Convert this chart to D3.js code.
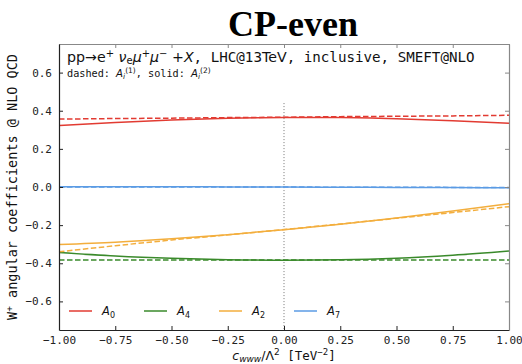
<!DOCTYPE html>
<html lang="en">
	<head>
		<meta charset="utf-8">
		<title>CP-even</title>
		<script type="text/javascript" src="https://cdn.jsdelivr.net/npm/d3@7/dist/d3.min.js"></script>
		<style type="text/css">
			html, body {
				margin: 0;
				padding: 0;
				background-color: white;
			}
		</style>
	</head>
	<body>
		<script type="text/javascript">

			//Width and height
			var w = 522;
			var h = 364;

			//Data
			var cwww = [-1, -0.75, -0.5, -0.25, 0, 0.25, 0.5, 0.75, 1];
			var a0Solid = [0.322, 0.338, 0.352, 0.361, 0.365, 0.364, 0.358, 0.348, 0.334];
			var a0Dashed = [0.356, 0.359, 0.361, 0.364, 0.366, 0.369, 0.371, 0.373, 0.376];
			var a4Solid = [-0.344, -0.362, -0.374, -0.381, -0.384, -0.382, -0.374, -0.358, -0.336];
			var a4Dashed = [-0.383, -0.383, -0.383, -0.383, -0.383, -0.383, -0.383, -0.383, -0.383];
			var a2Solid = [-0.302, -0.290, -0.272, -0.250, -0.224, -0.195, -0.162, -0.126, -0.087];
			var a2Dashed = [-0.340, -0.308, -0.278, -0.251, -0.223, -0.194, -0.164, -0.134, -0.103];
			var a7Solid = [0.001, 0.001, 0.001, 0.0005, 0, -0.001, -0.002, -0.003, -0.004];
			var a7Dashed = [0, 0, 0, 0, 0, -0.001, -0.001, -0.002, -0.002];

			var xTicks = [-1, -0.75, -0.5, -0.25, 0, 0.25, 0.5, 0.75, 1];
			var yTicks = [-0.6, -0.4, -0.2, 0, 0.2, 0.4, 0.6];

			var legendNames = ["0", "4", "2", "7"];
			var colors = ["#e23b32", "#3a8a2b", "#f3ae3d", "#5b9be4"];

			var series = [
				{ sub: legendNames[0], color: colors[0], solid: a0Solid, dashed: a0Dashed },
				{ sub: legendNames[1], color: colors[1], solid: a4Solid, dashed: a4Dashed },
				{ sub: legendNames[2], color: colors[2], solid: a2Solid, dashed: a2Dashed },
				{ sub: legendNames[3], color: colors[3], solid: a7Solid, dashed: a7Dashed }
			];

			var margin = { left: 59, right: 13, top: 44, bottom: 34 };

			var x = d3.scaleLinear()
					  .domain([-1, 1])
					  .range([margin.left, w - margin.right]);

			var y = d3.scaleLinear()
					  .domain([-0.75, 0.75])
					  .range([h - margin.bottom, margin.top]);

			var svg = d3.select("body")
						.append("svg")
						.attr("width", w)
						.attr("height", h);

			var mono = "'DejaVu Sans Mono', monospace";
			var sans = "'DejaVu Sans', sans-serif";
			var fmt = function(d) { return d3.format(".2f")(d).replace("-", "\u2212"); };
			var fmtY = function(d) { return d3.format(".1f")(d).replace("-", "\u2212"); };

			//Title
			svg.append("text")
				.attr("x", 293)
				.attr("y", 36)
				.attr("text-anchor", "middle")
				.attr("font-family", "'Liberation Serif', 'Times New Roman', serif")
				.attr("font-weight", "bold")
				.attr("font-size", "36px")
				.text("CP-even");

			//Vertical dotted line at 0
			svg.append("line")
				.attr("x1", x(0))
				.attr("x2", x(0))
				.attr("y1", y(0.44))
				.attr("y2", y(-0.75))
				.attr("stroke", "#777")
				.attr("stroke-width", 1)
				.attr("stroke-dasharray", "1,2");

			//Lines
			var line = d3.line()
						 .x(function(d, i) { return x(cwww[i]); })
						 .y(function(d) { return y(d); })
						 .curve(d3.curveMonotoneX);

			series.forEach(function(s) {
				svg.append("path")
					.attr("d", line(s.dashed))
					.attr("fill", "none")
					.attr("stroke", s.color)
					.attr("stroke-width", 1.5)
					.attr("stroke-dasharray", "5.5,2.5");
				svg.append("path")
					.attr("d", line(s.solid))
					.attr("fill", "none")
					.attr("stroke", s.color)
					.attr("stroke-width", 1.5);
			});

			//Axes with inward ticks
			var xAxisB = d3.axisBottom(x).tickValues(xTicks).tickSizeInner(-4).tickSizeOuter(0).tickPadding(6).tickFormat(fmt);
			var xAxisT = d3.axisTop(x).tickValues(xTicks).tickSizeInner(-4).tickSizeOuter(0).tickFormat("");
			var yAxisL = d3.axisLeft(y).tickValues(yTicks).tickSizeInner(-4).tickSizeOuter(0).tickPadding(7).tickFormat(fmtY);
			var yAxisR = d3.axisRight(y).tickValues(yTicks).tickSizeInner(-4).tickSizeOuter(0).tickFormat("");

			var gB = svg.append("g").attr("transform", "translate(0," + y(-0.75) + ")").call(xAxisB);
			var gT = svg.append("g").attr("transform", "translate(0," + y(0.75) + ")").call(xAxisT);
			var gL = svg.append("g").attr("transform", "translate(" + x(-1) + ",0)").call(yAxisL);
			var gR = svg.append("g").attr("transform", "translate(" + x(1) + ",0)").call(yAxisR);

			[gB, gL].forEach(function(g) {
				g.select(".domain").attr("stroke", "#222").attr("stroke-width", 1.2);
				g.selectAll(".tick line").attr("stroke", "#222");
				g.selectAll("text").attr("font-family", mono).attr("font-size", "11px").attr("fill", "#222");
			});
			[gT, gR].forEach(function(g) {
				g.select(".domain").attr("stroke", "#888").attr("stroke-width", 1.2);
				g.selectAll(".tick line").attr("stroke", "#888");
			});

			//Axis labels
			var xl = svg.append("text")
				.attr("x", x(0))
				.attr("y", 360)
				.attr("text-anchor", "middle")
				.attr("font-family", mono)
				.attr("font-size", "12.5px")
				.attr("fill", "#111");
			xl.append("tspan").attr("font-family", sans).attr("font-style", "italic").text("c");
			xl.append("tspan").attr("font-family", sans).attr("font-style", "italic").attr("font-size", "9px").attr("dy", 2).text("www");
			xl.append("tspan").attr("font-family", sans).attr("dy", -2).text("/\u039B");
			xl.append("tspan").attr("font-family", sans).attr("font-size", "9px").attr("dy", -5).text("2");
			xl.append("tspan").attr("dy", 5).text("  [TeV");
			xl.append("tspan").attr("font-size", "9px").attr("dy", -5).text("\u22122");
			xl.append("tspan").attr("dy", 5).text("]");

			var yl = svg.append("text")
				.attr("transform", "translate(17," + y(0) + ") rotate(-90)")
				.attr("text-anchor", "middle")
				.attr("font-family", mono)
				.attr("font-size", "13.5px")
				.attr("fill", "#111");
			yl.append("tspan").text("W");
			yl.append("tspan").attr("font-size", "9.5px").attr("dy", -5).text("+");
			yl.append("tspan").attr("dy", 5).text(" angular coefficients @ NLO QCD");

			//Annotation
			var ann = svg.append("text")
				.attr("x", 67)
				.attr("y", 62)
				.attr("font-family", mono)
				.attr("font-size", "14.2px")
				.attr("fill", "#111");
			ann.append("tspan").attr("font-family", sans).text("pp\u2192e");
			ann.append("tspan").attr("font-family", sans).attr("font-size", "10px").attr("dy", -5).text("+");
			ann.append("tspan").attr("font-family", sans).attr("font-style", "italic").attr("dy", 5).text(" \u03BD");
			ann.append("tspan").attr("font-family", sans).attr("font-size", "10px").attr("dy", 2).text("e");
			ann.append("tspan").attr("font-family", sans).attr("font-style", "italic").attr("dy", -2).text("\u03BC");
			ann.append("tspan").attr("font-family", sans).attr("font-size", "10px").attr("dy", -5).text("+");
			ann.append("tspan").attr("font-family", sans).attr("font-style", "italic").attr("dy", 5).text("\u03BC");
			ann.append("tspan").attr("font-family", sans).attr("font-size", "10px").attr("dy", -5).text("\u2212");
			ann.append("tspan").attr("font-family", sans).attr("dy", 5).text(" +");
			ann.append("tspan").attr("font-family", sans).attr("font-style", "italic").text("X");
			ann.append("tspan").text(", LHC@13");
			ann.append("tspan").attr("font-family", sans).text("TeV");
			ann.append("tspan").text(", inclusive, SMEFT@NLO");

			var ann2 = svg.append("text")
				.attr("x", 67)
				.attr("y", 77)
				.attr("font-family", mono)
				.attr("font-size", "10.2px")
				.attr("fill", "#111");
			ann2.append("tspan").text("dashed: ");
			ann2.append("tspan").attr("font-family", sans).attr("font-style", "italic").text("A");
			ann2.append("tspan").attr("font-family", sans).attr("font-style", "italic").attr("font-size", "7.5px").attr("dy", 2).text("i");
			ann2.append("tspan").attr("font-family", sans).attr("font-size", "7.5px").attr("dy", -6).text("(1)");
			ann2.append("tspan").attr("dy", 4).text(", solid: ");
			ann2.append("tspan").attr("font-family", sans).attr("font-style", "italic").text("A");
			ann2.append("tspan").attr("font-family", sans).attr("font-style", "italic").attr("font-size", "7.5px").attr("dy", 2).text("i");
			ann2.append("tspan").attr("font-family", sans).attr("font-size", "7.5px").attr("dy", -6).text("(2)");

			//Legend
			var legend = svg.selectAll("g.legend")
				.data(series)
				.enter()
				.append("g")
				.attr("class", "legend")
				.attr("transform", function(d, i) { return "translate(" + (69 + i * 75) + ",311)"; });

			legend.append("line")
				.attr("x1", 0)
				.attr("x2", 23)
				.attr("stroke", function(d) { return d.color; })
				.attr("stroke-width", 1.5);

			var lt = legend.append("text")
				.attr("x", 33)
				.attr("y", 4)
				.attr("font-family", sans)
				.attr("font-size", "11.5px")
				.attr("fill", "#111");
			lt.append("tspan").attr("font-style", "italic").text("A");
			lt.append("tspan").attr("font-size", "8px").attr("dy", 2.5).text(function(d) { return d.sub; });

		</script>
	</body>
</html>
